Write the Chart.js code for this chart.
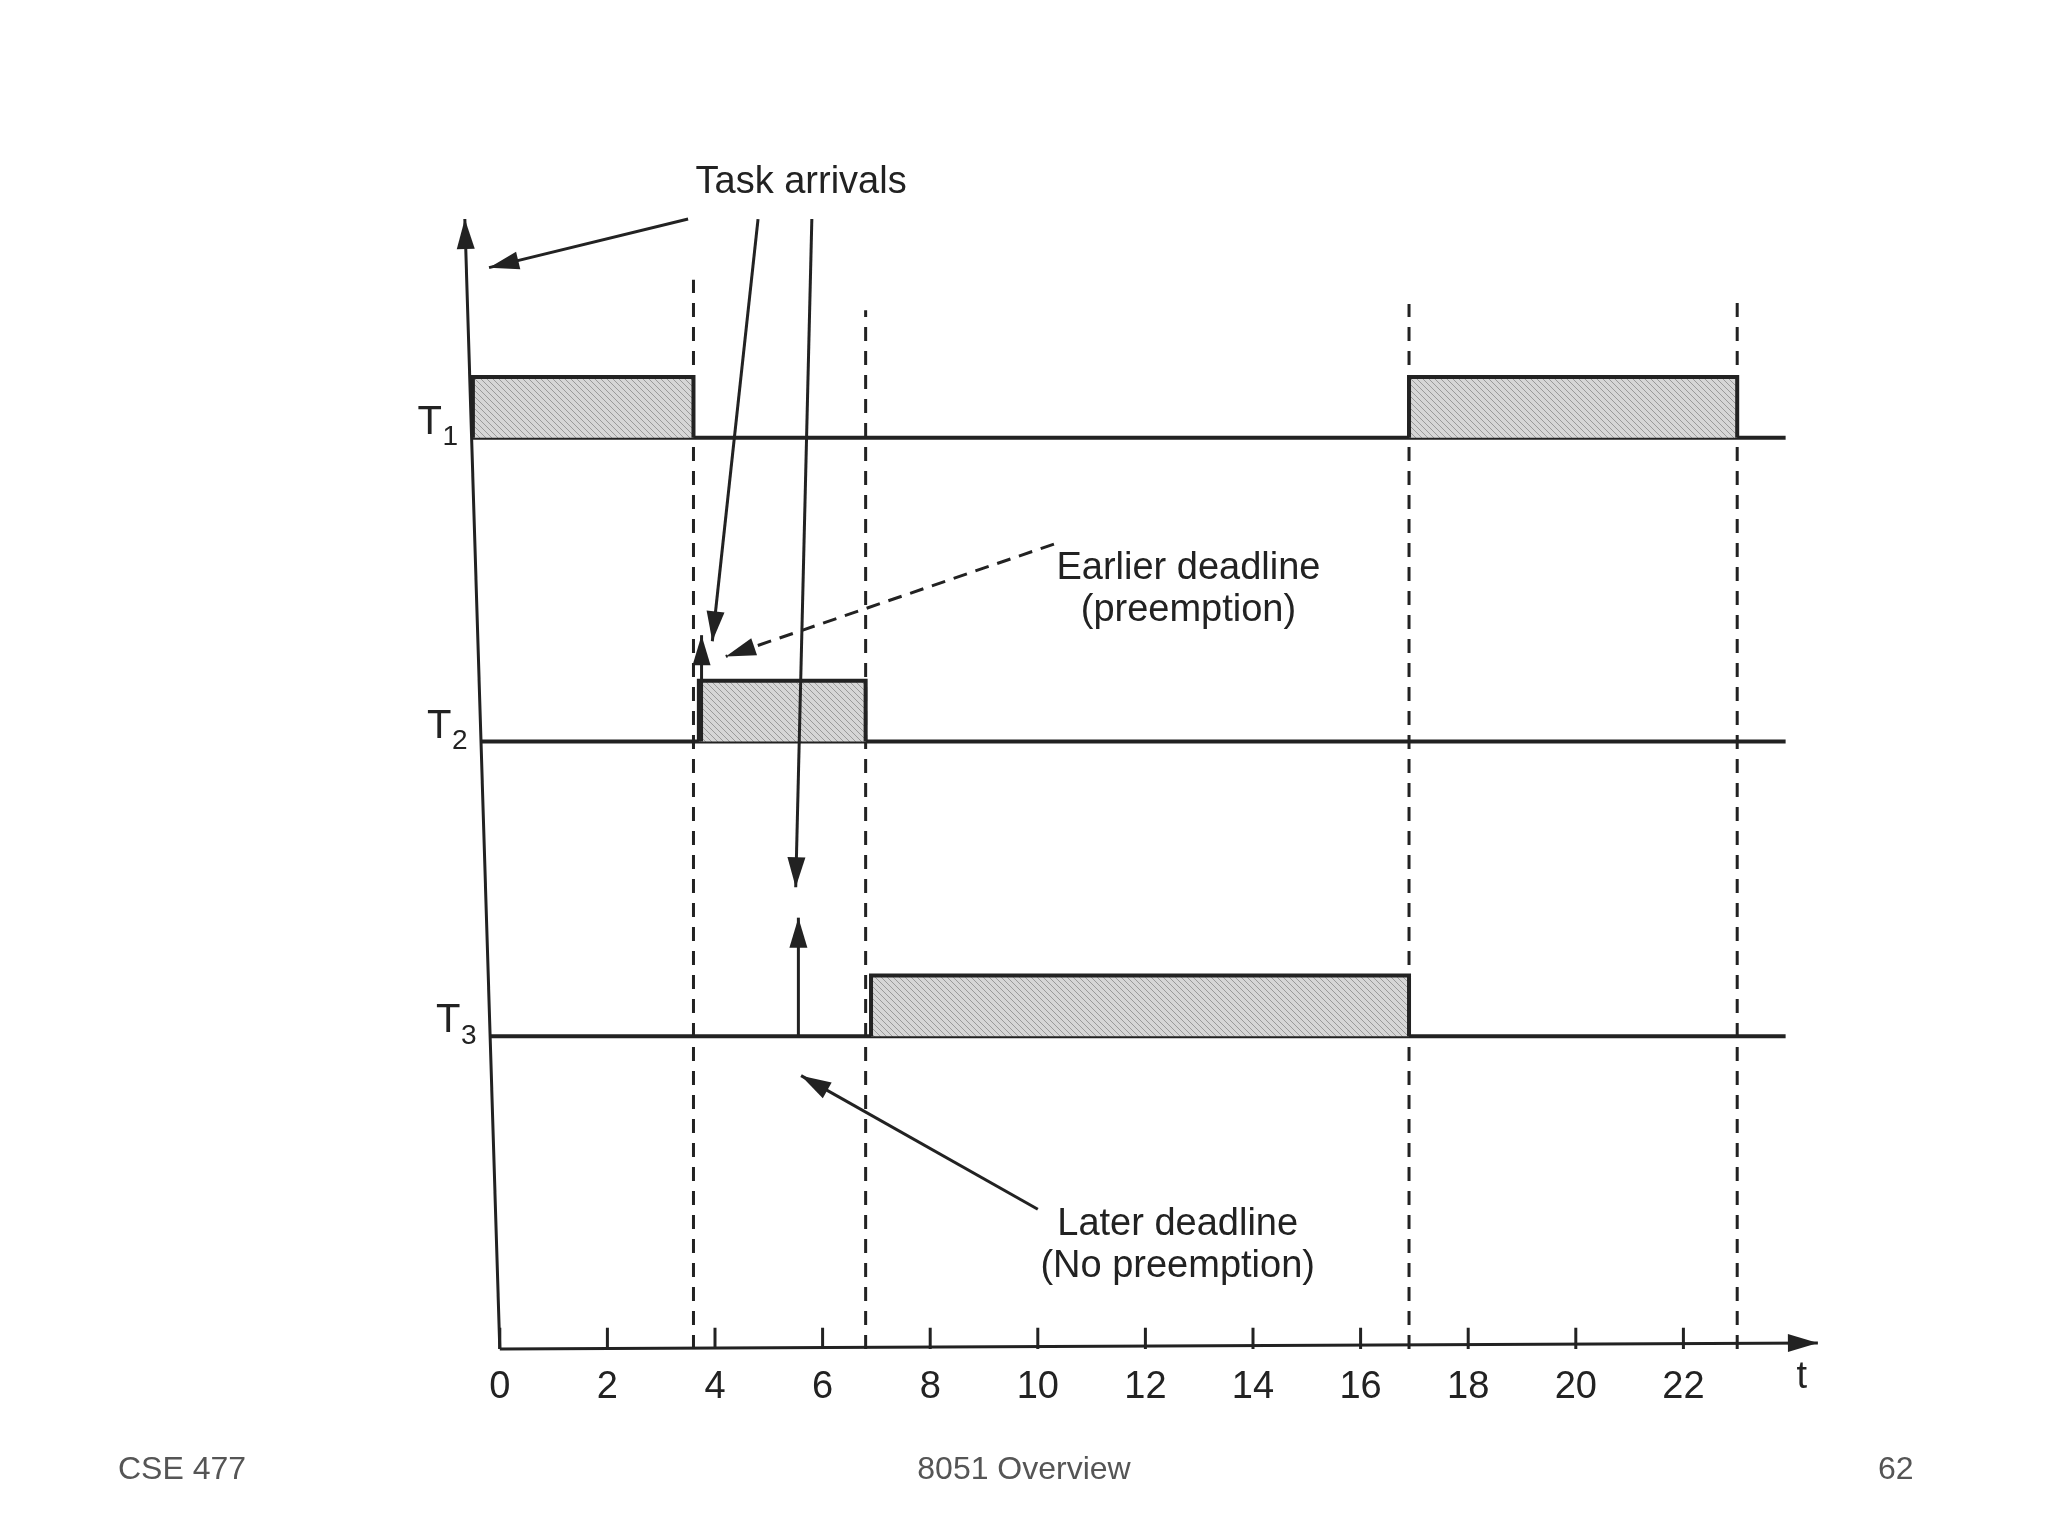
<!DOCTYPE html>
<html>
<head>
<meta charset="utf-8">
<style>
  html, body { margin: 0; padding: 0; background: #fff; }
  #wrap { position: relative; width: 2048px; height: 1536px; }
  .foot { position: absolute; top: 1450px; font: 32px "Liberation Sans", Arial, sans-serif; color: #555; }
</style>
<script src="https://cdn.jsdelivr.net/npm/chart.js@4/dist/chart.umd.min.js"></script>
</head>
<body>
<div id="wrap">
  <canvas id="sched" width="2048" height="1536"></canvas>
  <div class="foot" style="left:118px">CSE 477</div>
  <div class="foot" style="left:0;width:2048px;text-align:center">8051 Overview</div>
  <div class="foot" style="left:1878px">62</div>
</div>
<script>
// task rows and their baseline levels
const taskNames = ['T1', 'T2', 'T3'];
const taskLevels = [3, 2, 1.03];

// execution intervals [start, end, row index]
const runs = [
  [-0.5, 3.6, 0],
  [3.7, 6.8, 1],
  [6.9, 16.9, 2],
  [16.9, 23, 0]
];
const barHeight = 0.2;

// dashed deadline / switch lines [t, top]
const dashX = [3.6, 6.8, 16.9, 23];
const dashTop = [3.52, 3.42, 3.44, 3.46];

// x tick labels
const xTicks = [0, 2, 4, 6, 8, 10, 12, 14, 16, 18, 20, 22];

const axisTop = 3.72, axisLean = -0.65;
const axisAt = y => axisLean * y / axisTop;

// hatched grey fill
function hatch() {
  const c = document.createElement('canvas');
  c.width = 6; c.height = 6;
  const g = c.getContext('2d');
  g.fillStyle = '#d6d6d6';
  g.fillRect(0, 0, 6, 6);
  g.strokeStyle = '#9a9a9a';
  g.lineWidth = 1;
  g.beginPath(); g.moveTo(0, 0); g.lineTo(6, 6); g.stroke();
  return g.createPattern(c, 'repeat');
}
const pattern = hatch();

const datasets = [];
runs.forEach(r => {
  const base = taskLevels[r[2]];
  datasets.push({
    data: [{x: r[0], y: base}, {x: r[0], y: base + barHeight}, {x: r[1], y: base + barHeight}, {x: r[1], y: base}],
    borderColor: '#222', borderWidth: 4, backgroundColor: pattern,
    fill: 'shape', pointRadius: 0, tension: 0
  });
});
dashX.forEach((x, i) => {
  datasets.push({
    data: [{x: x, y: 0}, {x: x, y: dashTop[i]}],
    borderColor: '#222', borderWidth: 3, borderDash: [14, 10], pointRadius: 0
  });
});
taskLevels.forEach(l => {
  datasets.push({
    data: [{x: axisAt(l), y: l}, {x: 23.9, y: l}],
    borderColor: '#222', borderWidth: 4, pointRadius: 0
  });
});

function arrow(ctx, x1, y1, x2, y2, dashed) {
  ctx.save();
  ctx.strokeStyle = '#222'; ctx.fillStyle = '#222'; ctx.lineWidth = 3;
  if (dashed) ctx.setLineDash([14, 9]);
  ctx.beginPath(); ctx.moveTo(x1, y1); ctx.lineTo(x2, y2); ctx.stroke();
  ctx.setLineDash([]);
  const a = Math.atan2(y2 - y1, x2 - x1), L = 30, W = 9;
  ctx.beginPath();
  ctx.moveTo(x2, y2);
  ctx.lineTo(x2 - L * Math.cos(a) + W * Math.sin(a), y2 - L * Math.sin(a) - W * Math.cos(a));
  ctx.lineTo(x2 - L * Math.cos(a) - W * Math.sin(a), y2 - L * Math.sin(a) + W * Math.cos(a));
  ctx.closePath(); ctx.fill();
  ctx.restore();
}

const decor = {
  id: 'decor',
  afterDatasetsDraw(chart) {
    const ctx = chart.ctx, sx = chart.scales.x, sy = chart.scales.y;
    const X = v => sx.getPixelForValue(v), Y = v => sy.getPixelForValue(v);
    // axes
    arrow(ctx, X(0), Y(0), X(axisLean), Y(axisTop));
    arrow(ctx, X(0), Y(0), X(24.5), Y(0.02));
    ctx.font = '38px "Liberation Sans", Arial, sans-serif';
    ctx.fillStyle = '#222'; ctx.textAlign = 'center'; ctx.textBaseline = 'top';
    xTicks.forEach(t => {
      ctx.beginPath(); ctx.strokeStyle = '#222'; ctx.lineWidth = 3;
      ctx.moveTo(X(t), Y(0)); ctx.lineTo(X(t), Y(0.07)); ctx.stroke();
      ctx.fillText(String(t), X(t), Y(0) + 20);
    });
    ctx.fillText('t', X(24.2), Y(0) + 10);
    // row labels
    ctx.textAlign = 'right'; ctx.textBaseline = 'bottom';
    taskNames.forEach((n, i) => {
      const ax = axisAt(taskLevels[i]);
      ctx.font = '40px "Liberation Sans", Arial, sans-serif';
      ctx.fillText(n[0], X(ax - 0.55), Y(taskLevels[i]) + 5);
      ctx.font = '28px "Liberation Sans", Arial, sans-serif';
      ctx.fillText(n[1], X(ax - 0.25), Y(taskLevels[i]) + 14);
    });
    // arrows
    arrow(ctx, X(3.5), Y(3.72), X(-0.2), Y(3.56));
    arrow(ctx, X(4.8), Y(3.72), X(3.95), Y(2.33));
    arrow(ctx, X(5.8), Y(3.72), X(5.5), Y(1.52));
    arrow(ctx, X(3.75), Y(2.0), X(3.75), Y(2.35));
    arrow(ctx, X(5.55), Y(1.03), X(5.55), Y(1.42));
    arrow(ctx, X(10.3), Y(2.65), X(4.2), Y(2.28), true);
    arrow(ctx, X(10.0), Y(0.46), X(5.6), Y(0.9));
    // annotations
    ctx.textAlign = 'center'; ctx.textBaseline = 'middle';
    ctx.font = '38px "Liberation Sans", Arial, sans-serif';
    ctx.fillText('Task arrivals', X(5.6), Y(3.84));
    ctx.fillText('Earlier deadline', X(12.8), Y(2.57));
    ctx.fillText('(preemption)', X(12.8), Y(2.43));
    ctx.fillText('Later deadline', X(12.6), Y(0.41));
    ctx.fillText('(No preemption)', X(12.6), Y(0.27));
  }
};

new Chart(document.getElementById('sched'), {
  type: 'line',
  data: { datasets: datasets },
  options: {
    responsive: false, animation: false,
    layout: { padding: { left: 446, right: 257, top: 134, bottom: 187 } },
    scales: {
      x: { type: 'linear', min: -1, max: 24, display: false },
      y: { type: 'linear', min: 0, max: 4, display: false }
    },
    plugins: { legend: { display: false }, tooltip: { enabled: false } },
    clip: false
  },
  plugins: [decor]
});
</script>
</body>
</html>
